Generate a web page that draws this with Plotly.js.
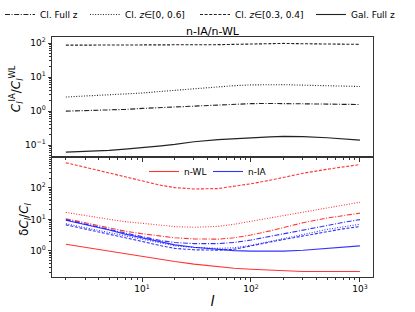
<!DOCTYPE html>
<html><head><meta charset="utf-8">
<script src="https://cdn.plot.ly/plotly-3.0.1.min.js"></script>
<style>html,body{margin:0;padding:0;background:#fff}#chart{width:415px;height:312px}</style>
</head><body><div id="chart"></div>
<script>
// multipoles
var ell = [2,3,5,7,10,15,20,30,50,70,100,150,200,300,500,700,1000];

// top panel: ratio C_l^IA / C_l^WL
var ratioClFull = [1.0,1.03,1.08,1.12,1.2,1.27,1.33,1.42,1.52,1.6,1.66,1.68,1.68,1.65,1.61,1.58,1.57];
var ratioClWide = [2.6,2.75,3.0,3.2,3.4,3.8,4.1,4.6,5.2,5.6,5.9,6.1,6.0,5.8,5.5,5.4,5.3];
var ratioClNarrow = [87,87,87,88,88,88,89,89,90,92,95,99,98,96,93,92,92];
var ratioGalFull = [0.062,0.064,0.07,0.076,0.083,0.095,0.105,0.125,0.145,0.155,0.165,0.175,0.18,0.178,0.165,0.15,0.14];

// bottom panel: dC_l/C_l
var wlClFull = [10.5,7.8,5.3,4.2,3.5,2.9,2.6,2.4,2.35,2.6,3.2,4.3,5.5,7.8,11,13.3,15.8];
var wlClWide = [16.7,13,10,8.5,7.4,6.4,5.9,5.6,6.0,7.0,8.7,11,13.5,17,24,29,35];
var wlClNarrow = [630,450,290,215,160,120,102,92,95,110,135,175,220,290,390,460,550];
var wlGalFull = [1.63,1.3,0.98,0.8,0.66,0.53,0.46,0.38,0.31,0.28,0.26,0.24,0.23,0.22,0.22,0.22,0.22];
var iaClFull = [9.8,7.3,4.8,3.7,2.9,2.1,1.85,1.7,1.7,1.85,2.2,2.9,3.5,4.6,6.5,8.0,9.8];
var iaClWide = [7.3,5.6,3.8,3.0,2.3,1.7,1.45,1.28,1.2,1.25,1.5,2.0,2.5,3.3,4.8,5.9,7.0];
var iaClNarrow = [6.7,5.0,3.4,2.6,2.0,1.45,1.2,1.08,1.05,1.12,1.4,1.9,2.3,3.0,4.2,5.0,5.9];
var iaGalFull = [9.4,7.0,4.6,3.4,2.6,1.9,1.55,1.3,1.1,1.02,0.98,0.97,0.98,1.05,1.2,1.32,1.44];

var topNames = ['Cl. Full z','Cl. <i>z</i>\u2208[0, 0.6]','Cl. <i>z</i>\u2208[0.3, 0.4]','Gal. Full z'];
var bottomNames = ['n-WL','n-IA'];
var yTitleTop = '<i>C</i><sub><i>l</i></sub><sup>IA</sup>/<i>C</i><sub><i>l</i></sub><sup>WL</sup>';
var yTitleBottom = '\u03b4<i>C</i><sub><i>l</i></sub>/<i>C</i><sub><i>l</i></sub>';

// tick labels
var xTickVals = [10,100,1000];
var xTickText = ['10<sup>1</sup>','10<sup>2</sup>','10<sup>3</sup>'];
var yTopTickVals = [0.1,1,10,100];
var yTopTickText = ['10<sup>\u22121</sup>','10<sup>0</sup>','10<sup>1</sup>','10<sup>2</sup>'];
var yBotTickVals = [1,10,100];
var yBotTickText = ['10<sup>0</sup>','10<sup>1</sup>','10<sup>2</sup>'];

var K = '#222';
var RED = 'rgba(255,0,0,0.8)';
var BLUE = 'rgba(0,0,255,0.8)';
var DASH = {dash:'3px,1.6px', dot:'1px,1.6px', dashdot:'5px,1.6px,1px,1.6px', solid:'solid'};

function tr(y, xa, ya, color, dash, name, legend){
  return {x: ell, y: y, xaxis: xa, yaxis: ya, type:'scatter', mode:'lines',
    line:{color:color, dash:DASH[dash], width:1.1}, name:name||'', legend:legend||'legend',
    showlegend: !!legend, hoverinfo:'skip'};
}

var data = [
  tr(ratioClFull,'x2','y2',K,'dashdot',topNames[0],'legend'),
  tr(ratioClWide,'x2','y2',K,'dot',topNames[1],'legend3'),
  tr(ratioClNarrow,'x2','y2',K,'dash',topNames[2],'legend4'),
  tr(ratioGalFull,'x2','y2',K,'solid',topNames[3],'legend5'),
  tr(wlClNarrow,'x','y',RED,'dash'),
  tr(wlClWide,'x','y',RED,'dot'),
  tr(wlClFull,'x','y',RED,'dashdot'),
  tr(wlGalFull,'x','y',RED,'solid',bottomNames[0],'legend2'),
  tr(iaClFull,'x','y',BLUE,'dashdot'),
  tr(iaClWide,'x','y',BLUE,'dot'),
  tr(iaClNarrow,'x','y',BLUE,'dash'),
  tr(iaGalFull,'x','y',BLUE,'solid',bottomNames[1],'legend6')
];

var axBase = {type:'log', showgrid:false, zeroline:false, showline:true, linecolor:'#333', linewidth:1,
  mirror:true, ticks:'outside', ticklen:3.5, tickcolor:'#333', tickmode:'array',
  tickfont:{family:'DejaVu Sans', size:9, color:'#000'},
  minor:{ticks:'outside', ticklen:2, tickcolor:'#333', showgrid:false, dtick:'D1'}};

function leg(xpx, y, yref){
  return {orientation:'h', x:xpx/415, xref:'container', xanchor:'left', y:y, yref:yref, yanchor:'top',
    font:{size:9}, bgcolor:'rgba(0,0,0,0)', itemwidth:30};
}

var layout = {
  width:415, height:312,
  margin:{l:52, r:42, t:37, b:35, autoexpand:false},
  paper_bgcolor:'#fff', plot_bgcolor:'#fff',
  font:{family:'DejaVu Sans', color:'#000'},
  title:{text:'n-IA/n-WL', font:{size:11}, x:0.5, xref:'paper', xanchor:'center', y:1, yref:'paper', yanchor:'bottom', pad:{b:2}},
  xaxis: Object.assign({}, axBase, {anchor:'y', range:[0.174,3.12], tickvals:xTickVals, ticktext:xTickText,
    title:{text:'<i>l</i>', font:{size:14}, standoff:2}}),
  xaxis2: Object.assign({}, axBase, {anchor:'y2', matches:'x', range:[0.174,3.12], tickvals:xTickVals, ticktext:xTickText, showticklabels:false}),
  yaxis: Object.assign({}, axBase, {domain:[0,0.5], anchor:'x', range:[-0.83,2.98], tickvals:yBotTickVals, ticktext:yBotTickText}),
  yaxis2: Object.assign({}, axBase, {domain:[0.5,1], anchor:'x2', range:[-1.35,2.18], tickvals:yTopTickVals, ticktext:yTopTickText}),
  annotations:[
    {text:yTitleTop, xref:'paper', yref:'paper', x:-0.112, y:0.783, xanchor:'center', yanchor:'middle',
     textangle:-90, showarrow:false, font:{size:12}},
    {text:yTitleBottom, xref:'paper', yref:'paper', x:-0.084, y:0.242, xanchor:'center', yanchor:'middle',
     textangle:-90, showarrow:false, font:{size:12}}
  ],
  legend: leg(0, 1.0, 'container'),
  legend3: leg(85, 1.0, 'container'),
  legend4: leg(195, 1.0, 'container'),
  legend5: leg(311, 1.0, 'container'),
  legend2: leg(144, 0.5, 'paper'),
  legend6: leg(208, 0.5, 'paper'),
  showlegend:true
};

Plotly.newPlot('chart', data, layout, {staticPlot:true, displayModeBar:false});
</script>
</body></html>
